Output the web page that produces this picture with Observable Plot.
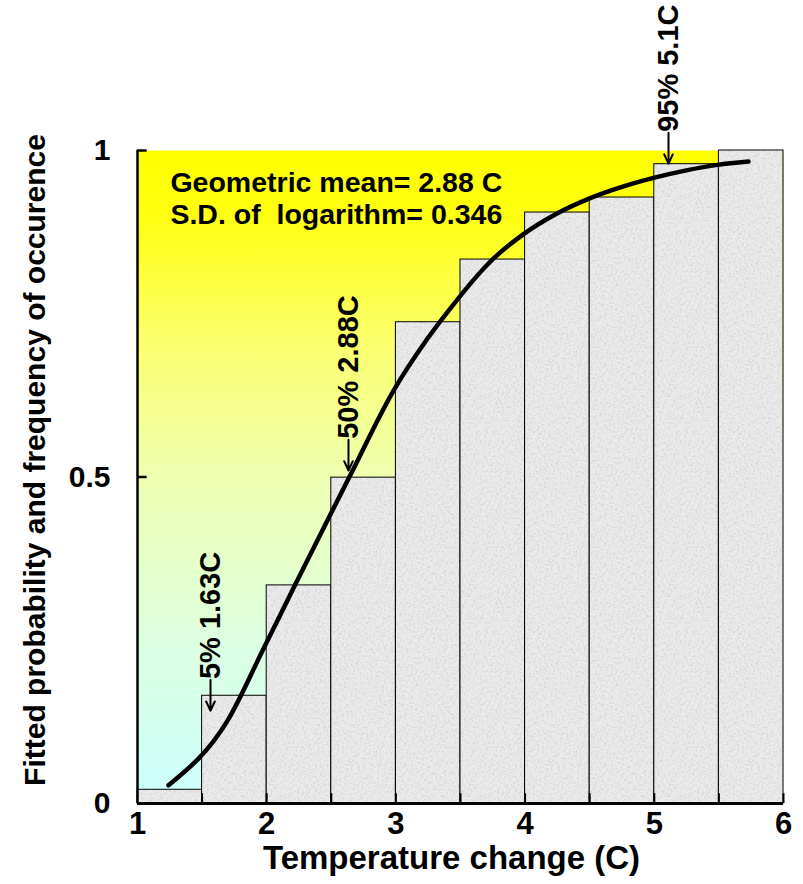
<!DOCTYPE html>
<html><head><meta charset="utf-8">
<script src="https://cdn.jsdelivr.net/npm/d3@7"></script>
<script src="https://cdn.jsdelivr.net/npm/@observablehq/plot@0.6"></script>
<style>body{margin:0;background:#fff}</style>
</head><body><div id="chart"></div>
<script>
// Histogram bins (temperature change, C) and observed cumulative frequency
const binStart = [1, 1.5, 2, 2.5, 3, 3.5, 4, 4.5, 5, 5.5];
const binEnd = [1.5, 2, 2.5, 3, 3.5, 4, 4.5, 5, 5.5, 6];
const frequency = [0.021, 0.165, 0.334, 0.499, 0.737, 0.833, 0.905, 0.928, 0.979, 1.0];
// Fitted lognormal cumulative probability
const curveT = [1.24, 1.697, 1.975, 2.223, 2.494, 2.64, 2.981, 3.245, 3.485, 3.593, 3.732, 3.988, 4.251, 4.491, 4.762, 4.994, 5.257, 5.489, 5.729];
const curveP = [0.028, 0.127, 0.237, 0.336, 0.443, 0.500, 0.632, 0.712, 0.774, 0.800, 0.830, 0.872, 0.904, 0.926, 0.945, 0.958, 0.970, 0.978, 0.983];
// Percentile annotations
const annotLabel = ["5% 1.63C", "50% 2.88C", "95% 5.1C"];
const annotX = [1.565, 2.633, 5.11];
const annotY = [0.142, 0.51, 0.98];
// Stats text
const statLines = ["Geometric mean= 2.88 C", "S.D. of  logarithm= 0.346"];
const xTicks = [1, 2, 3, 4, 5, 6];
const yTicks = [0, 0.5, 1];
const yTickLabels = ["0", "0.5", "1"];
const binEdges = [1.5, 2, 2.5, 3, 3.5, 4, 4.5, 5, 5.5, 6];

const bins = binStart.map((s, i) => ({x1: s, x2: binEnd[i], f: frequency[i]}));
const curve = curveT.map((t, i) => ({t, p: curveP[i]}));
const annots = annotLabel.map((l, i) => ({label: l, x: annotX[i], y: annotY[i], y1: annotY[i] + 0.047}));
const stats = statLines.map((s, i) => ({s, y: [0.951, 0.902][i]}));

const F = "Liberation Sans, Arial, Helvetica, sans-serif";

const svg = Plot.plot({
  width: 803, height: 884,
  marginLeft: 137, marginRight: 20, marginTop: 150, marginBottom: 81,
  x: {domain: [1, 6], axis: null},
  y: {domain: [0, 1], axis: null},
  style: {fontFamily: F, fontWeight: "bold", background: "white", overflow: "visible", color: "black"},
  marks: [
    Plot.frame({fill: "url(#bg)", stroke: null}),
    Plot.rectY(bins, {x1: "x1", x2: "x2", y: "f", fill: "url(#tex)", stroke: "black", strokeWidth: 1}),
    Plot.ruleX(binEdges, {y1: 0, y2: 0.015, stroke: "black", strokeWidth: 2}),
    Plot.ruleY(yTicks, {x1: 1, x2: 1.075, stroke: "black", strokeWidth: 2.5}),
    Plot.ruleX([1], {y1: 0, y2: 1, stroke: "black", strokeWidth: 2.5}),
    Plot.ruleY([0], {x1: 1, x2: 6, stroke: "black", strokeWidth: 3}),
    Plot.line(curve, {x: "t", y: "p", stroke: "black", strokeWidth: 4.5, curve: "monotone-x"}),
    Plot.arrow(annots, {x1: "x", x2: "x", y1: "y1", y2: "y", stroke: "black", strokeWidth: 2, headLength: 9, headAngle: 50}),
    Plot.text(annots, {x: "x", y: "y1", text: "label", rotate: -90, textAnchor: "start", dy: -1, fontSize: 29, fontFamily: F, fontWeight: "bold", fill: "black"}),
    Plot.text(stats, {x: 1.255, y: "y", text: "s", textAnchor: "start", fontSize: 28.5, fontFamily: F, fontWeight: "bold", fill: "black"}),
    Plot.text(xTicks, {x: d => d, y: 0, dy: 8, lineAnchor: "top", fontSize: 31, fontFamily: F, fontWeight: "bold", fill: "black"}),
    Plot.text(yTicks, {x: 1, y: d => d, text: (d, i) => yTickLabels[i], dx: -27, textAnchor: "end", fontSize: 30, fontFamily: F, fontWeight: "bold", fill: "black"}),
    Plot.text(["Temperature change (C)"], {frameAnchor: "bottom", textAnchor: "middle", lineAnchor: "middle", dx: -9, dy: 55, fontSize: 33, fontFamily: F, fontWeight: "bold", fill: "black"}),
    Plot.text(["Fitted probability and frequency of occurence"], {frameAnchor: "left", textAnchor: "middle", lineAnchor: "middle", rotate: -90, dx: -102, dy: -17, fontSize: 30, fontFamily: F, fontWeight: "bold", fill: "black"})
  ]
});

const defs = d3.select(svg).insert("defs", ":first-child");
const g = defs.append("linearGradient").attr("id", "bg").attr("x1", 0).attr("y1", 0).attr("x2", 0).attr("y2", 1);
[[0, "#ffff00"], [0.1, "#ffff10"], [0.3, "#fbff70"], [0.5, "#eeffb0"], [0.75, "#dcffe0"], [1, "#ccffff"]].forEach(([o, c]) =>
  g.append("stop").attr("offset", o).attr("stop-color", c));
const filt = defs.append("filter").attr("id", "noise").attr("x", 0).attr("y", 0).attr("width", "100%").attr("height", "100%");
filt.append("feTurbulence").attr("type", "fractalNoise").attr("baseFrequency", 0.45).attr("numOctaves", 3).attr("stitchTiles", "stitch").attr("seed", 3);
filt.append("feColorMatrix").attr("type", "matrix").attr("values", "0 0 0 0 0.6  0 0 0 0 0.6  0 0 0 0 0.6  2 0 0 0 -0.85");
const pat = defs.append("pattern").attr("id", "tex").attr("patternUnits", "userSpaceOnUse").attr("width", 200).attr("height", 200);
pat.append("rect").attr("width", 200).attr("height", 200).attr("fill", "#ebebeb");
pat.append("rect").attr("width", 200).attr("height", 200).attr("filter", "url(#noise)").attr("opacity", 0.8);

document.getElementById("chart").appendChild(svg);
</script>
</body></html>
